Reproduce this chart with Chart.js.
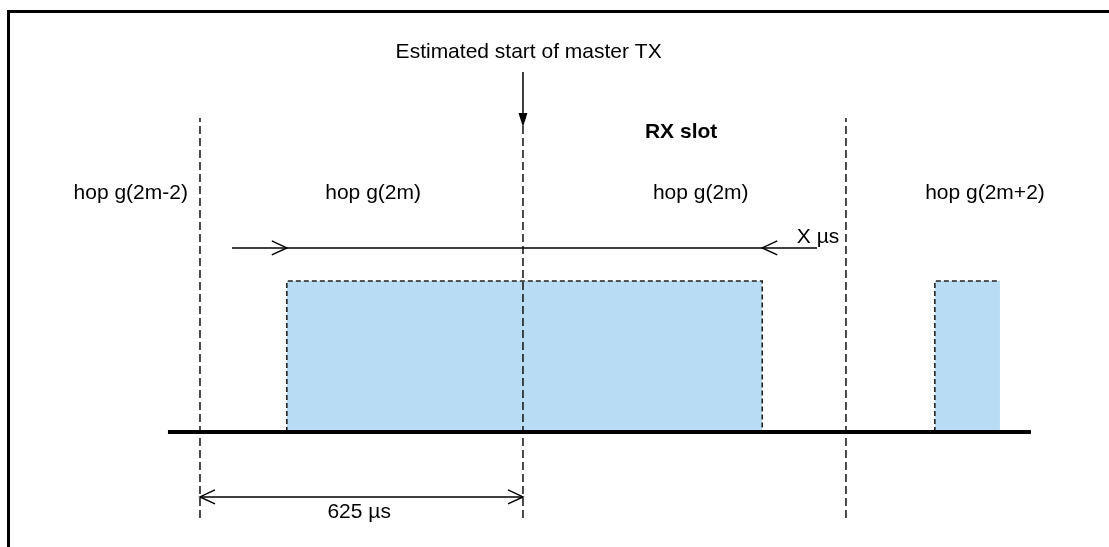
<!DOCTYPE html>
<html>
<head>
<meta charset="utf-8">
<script src="https://cdn.jsdelivr.net/npm/chart.js@4.4.0/dist/chart.umd.min.js"></script>
<style>
  html, body { margin: 0; padding: 0; background: #fff; }
  #wrap { position: relative; width: 1109px; height: 547px; }
</style>
</head>
<body>
<div id="wrap"><canvas id="chartTiming"></canvas></div>
<script>
// --- datos (eje x en µs, eje y en nivel de señal) ---
var slotEdges = [0, 625, 1250];              // límites de slot
var slotLength = 625;                        // µs
var rxWindowStart = [168, 1422];             // ventana RX (inicio)
var rxWindowEnd = [1088, 1548];              // ventana RX (fin, la 2ª cortada)
var pulseLevel = 1;
var baselineRange = [-62, 1608];
var hopLabels = ['hop g(2m-2)', 'hop g(2m)', 'hop g(2m)', 'hop g(2m+2)'];
var hopLabelX = [-134, 335, 969, 1519];
var uncertaintyRange = [62, 1194];           // línea de "X µs"
var uncertaintyLabel = 'X µs';
var slotLabel = '625 µs';
var masterTxLabel = 'Estimated start of master TX';
var rxSlotLabel = 'RX slot';

var FONT = '"Liberation Sans", Arial, Helvetica, sans-serif';

function linea(puntos, color, ancho, dash) {
  return {
    data: puntos,
    borderColor: color,
    borderWidth: ancho,
    borderDash: dash || [],
    pointRadius: 0,
    fill: false,
    tension: 0
  };
}

var datasets = [];
// línea base
datasets.push(linea([{ x: baselineRange[0], y: 0 }, { x: baselineRange[1], y: 0 }], '#000', 4));
// límites de slot (discontinuas)
for (var i = 0; i < slotEdges.length; i++) {
  datasets.push(linea([{ x: slotEdges[i], y: -0.57 }, { x: slotEdges[i], y: 2.08 }], '#111', 1.5, [8, 4]));
}
// flecha X µs
datasets.push(linea([{ x: uncertaintyRange[0], y: 1.219 }, { x: uncertaintyRange[1], y: 1.219 }], '#000', 1.5));
// cota 625 µs
datasets.push(linea([{ x: slotEdges[0], y: -0.43 }, { x: slotEdges[0] + slotLength, y: -0.43 }], '#000', 1.5));
// flecha hacia abajo
datasets.push(linea([{ x: slotEdges[1], y: 2.384 }, { x: slotEdges[1], y: 2.10 }], '#000', 1.5));
// ventanas RX (azul)
for (var j = 0; j < rxWindowStart.length; j++) {
  var pts = [{ x: rxWindowStart[j], y: 0 }, { x: rxWindowStart[j], y: pulseLevel }, { x: rxWindowEnd[j], y: pulseLevel }];
  if (j === 0) pts.push({ x: rxWindowEnd[j], y: 0 });
  var ds = linea(pts, '#222', 1.6, [5, 3]);
  ds.fill = 'origin';
  ds.backgroundColor = '#b7dcf4';
  datasets.push(ds);
}

var anotaciones = {
  id: 'anotaciones',
  afterDatasetsDraw: function (chart) {
    var ctx = chart.ctx;
    var xs = chart.scales.x, ys = chart.scales.y;
    function px(v) { return xs.getPixelForValue(v); }
    function py(v) { return ys.getPixelForValue(v); }

    ctx.save();
    ctx.strokeStyle = '#000';
    ctx.fillStyle = '#000';
    ctx.lineWidth = 1.5;

    // puntas abiertas
    function chevron(x, y, dir) {
      ctx.beginPath();
      ctx.moveTo(x - dir * 15, y - 7);
      ctx.lineTo(x, y);
      ctx.lineTo(x - dir * 15, y + 7);
      ctx.stroke();
    }
    chevron(px(rxWindowStart[0]), py(1.219), 1);
    chevron(px(rxWindowEnd[0]), py(1.219), -1);
    chevron(px(slotEdges[0]), py(-0.43), -1);
    chevron(px(slotEdges[0] + slotLength), py(-0.43), 1);

    // punta rellena hacia abajo
    var ax = px(slotEdges[1]), ay = py(2.02);
    ctx.beginPath();
    ctx.moveTo(ax, ay);
    ctx.lineTo(ax - 4.5, ay - 14);
    ctx.lineTo(ax + 4.5, ay - 14);
    ctx.closePath();
    ctx.fill();

    // textos
    ctx.textAlign = 'center';
    ctx.textBaseline = 'middle';
    ctx.font = '21px ' + FONT;
    ctx.fillText(masterTxLabel, px(636), py(2.517));
    for (var k = 0; k < hopLabels.length; k++) {
      ctx.fillText(hopLabels[k], px(hopLabelX[k]), py(1.583));
    }
    ctx.fillText(uncertaintyLabel, px(1196), py(1.291));
    ctx.fillText(slotLabel, px(308), py(-0.53));
    ctx.font = 'bold 21px ' + FONT;
    ctx.fillText(rxSlotLabel, px(931), py(1.987));

    // marco
    ctx.lineWidth = 3;
    ctx.strokeRect(8.5, 11.5, 1200, 600);
    ctx.restore();
  }
};

new Chart(document.getElementById('chartTiming'), {
  type: 'line',
  data: { datasets: datasets },
  options: {
    responsive: true,
    maintainAspectRatio: false,
    animation: false,
    parsing: true,
    layout: { padding: 0 },
    plugins: { legend: { display: false }, tooltip: { enabled: false } },
    scales: {
      x: { type: 'linear', min: -387, max: 1759, display: false },
      y: { type: 'linear', min: -0.7616, max: 2.861, display: false }
    }
  },
  plugins: [anotaciones]
});
</script>
</body>
</html>
